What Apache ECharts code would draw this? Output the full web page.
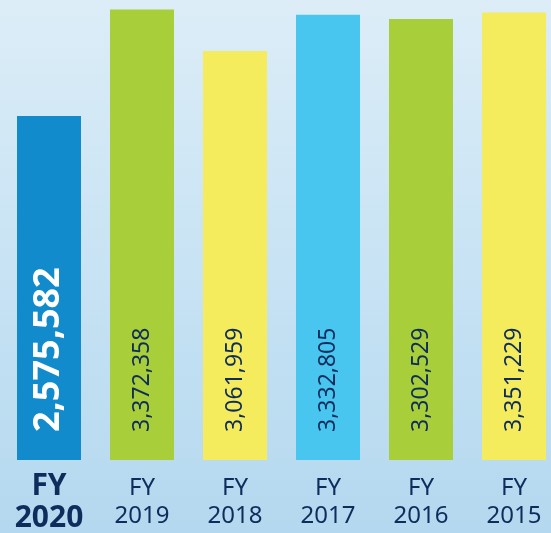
<!DOCTYPE html>
<html>
<head>
<meta charset="utf-8">
<script src="https://cdn.jsdelivr.net/npm/echarts@6/dist/echarts.min.js"></script>
<style>
  html, body { margin: 0; padding: 0; }
  #main { width: 551px; height: 533px; }
</style>
</head>
<body>
<div id="main"></div>
<script>
// data
var years = ['2020', '2019', '2018', '2017', '2016', '2015'];
var values = [2575582, 3372358, 3061959, 3332805, 3302529, 3351229];
var barColors = ['#128bcc', '#a8cf3a', '#f4ec5c', '#49c6f0', '#a8cf3a', '#f4ec5c'];

var navy = '#0f2d5c';

var chartData = [];
for (var i = 0; i < values.length; i++) {
  var first = i === 0;
  chartData.push({
    value: values[i],
    itemStyle: { color: barColors[i] },
    label: {
      color: first ? '#ffffff' : navy,
      fontWeight: first ? 'bold' : 'normal',
      fontSize: first ? 36 : 23
    }
  });
}

var myChart = echarts.init(document.getElementById('main'));
var option = {
  animation: false,
  backgroundColor: {
    type: 'linear', x: 0, y: 0, x2: 0, y2: 1,
    colorStops: [
      { offset: 0, color: '#dcedf7' },
      { offset: 0.5, color: '#c8e3f4' },
      { offset: 1, color: '#b4d8ef' }
    ]
  },
  grid: { left: 2.5, top: 0, width: 558, height: 460, outerBoundsMode: 'none', containLabel: false },
  xAxis: {
    type: 'category',
    data: years,
    axisLine: { show: false },
    axisTick: { show: false },
    axisLabel: {
      interval: 0,
      margin: 42,
      verticalAlign: 'middle',
      formatter: function(v, idx) {
        if (idx === 0) return '{b|FY}\n{b|' + v + '}';
        return '{n|FY}\n{n|' + v + '}';
      },
      rich: {
        b: { fontFamily: 'Noto Sans', fontSize: 30, fontWeight: 'bold', lineHeight: 32, color: navy, align: 'center' },
        n: { fontFamily: 'Noto Sans', fontSize: 24, lineHeight: 28, color: navy, align: 'center' }
      }
    }
  },
  yAxis: {
    type: 'value',
    min: 0,
    max: 3444000,
    show: false,
    splitLine: { show: false }
  },
  series: [{
    type: 'bar',
    barWidth: 64,
    data: chartData,
    label: {
      show: true,
      position: 'insideBottom',
      distance: 28,
      rotate: 90,
      align: 'left',
      verticalAlign: 'middle',
      fontFamily: 'Noto Sans',
      formatter: function(p) {
        return p.value.toLocaleString('en-US');
      }
    }
  }]
};
myChart.setOption(option);
</script>
</body>
</html>
